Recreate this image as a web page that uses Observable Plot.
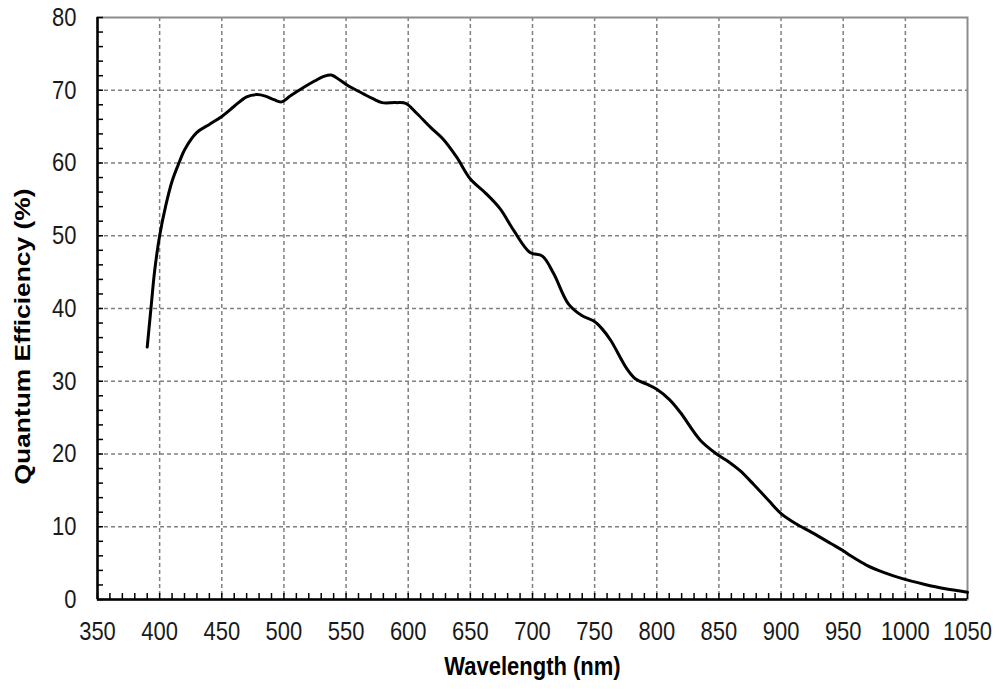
<!DOCTYPE html>
<html>
<head>
<meta charset="utf-8">
<script src="https://cdn.jsdelivr.net/npm/d3@7"></script>
<script src="https://cdn.jsdelivr.net/npm/@observablehq/plot@0.6"></script>
<style>
  html, body { margin: 0; padding: 0; background: #fff; }
  #chart svg { display: block; }
</style>
</head>
<body>
<div id="chart"></div>
<script>
// Wavelength (nm) and quantum efficiency (%)
const wavelength = [390, 393, 396, 400, 405, 410, 416, 420, 430, 440, 450, 460, 470, 478, 485, 492, 498, 505, 516, 525, 532, 538, 545, 551, 564, 572, 579, 590, 598, 607, 618, 628, 639, 650, 662, 674, 685, 698, 708, 717, 729, 740, 749, 756, 763, 776, 783, 792, 800, 810, 819, 835, 849, 858, 867, 878, 890, 900, 912, 925, 940, 950, 956, 969, 983, 999, 1015, 1031, 1050];
const efficiency = [34.7, 40.0, 45.2, 50.0, 54.2, 57.5, 60.2, 61.8, 64.2, 65.3, 66.4, 67.8, 69.1, 69.4, 69.2, 68.7, 68.4, 69.2, 70.4, 71.3, 71.9, 72.1, 71.4, 70.7, 69.5, 68.8, 68.3, 68.3, 68.2, 66.8, 64.9, 63.3, 60.8, 57.8, 55.9, 53.7, 50.7, 47.7, 47.2, 44.8, 40.6, 39.0, 38.3, 37.2, 35.6, 31.7, 30.3, 29.6, 28.9, 27.5, 25.7, 21.9, 19.9, 18.9, 17.7, 15.8, 13.6, 11.8, 10.4, 9.2, 7.7, 6.7, 6.0, 4.7, 3.7, 2.8, 2.1, 1.5, 1.0];

const xTicks = [350, 400, 450, 500, 550, 600, 650, 700, 750, 800, 850, 900, 950, 1000, 1050];
const yTicks = [0, 10, 20, 30, 40, 50, 60, 70, 80];
const xMinor = d3.range(350, 1051, 10);
const yMinor = d3.range(0, 81, 2);

const data = wavelength.map((w, i) => ({w, q: efficiency[i]}));

const gridStyle = {stroke: "#808080", strokeOpacity: 1, strokeWidth: 1.5, strokeDasharray: "4,3"};

const W = 999, H = 690, mL = 97, mR = 32, mT = 17, mB = 91;
const frameW = W - mL - mR, frameH = H - mT - mB, tickLen = 6;

const chart = Plot.plot({
  width: W,
  height: H,
  marginLeft: mL,
  marginRight: mR,
  marginTop: mT,
  marginBottom: mB,
  style: {fontFamily: "'Liberation Sans', Arial, sans-serif", fontSize: "22px", color: "#1a1a1a", background: "#fff"},
  x: {domain: [350, 1050]},
  y: {domain: [0, 80]},
  marks: [
    Plot.gridX(xTicks.slice(1, -1), gridStyle),
    Plot.gridY(yTicks.slice(1, -1), gridStyle),
    Plot.frame({stroke: "#8c8c8c", strokeWidth: 2}),
    Plot.line(data, {x: "w", y: "q", curve: "catmull-rom", stroke: "#000", strokeWidth: 3}),
    Plot.tickX(xMinor, {x: d => d, insetTop: frameH - tickLen, stroke: "#000", strokeWidth: 1.5}),
    Plot.tickY(yMinor, {y: d => d, insetRight: frameW - tickLen, stroke: "#000", strokeWidth: 1.5}),
    Plot.axisX(xTicks, {tickSize: 0, tickPadding: 22, tickFormat: d => String(d), label: null}),
    Plot.axisY(yTicks, {tickSize: 0, tickPadding: 21, tickFormat: d => String(d), label: null}),
    Plot.ruleY([0], {stroke: "#000", strokeWidth: 2.5}),
    Plot.ruleX([350], {stroke: "#000", strokeWidth: 2.5}),
    Plot.text(["Wavelength (nm)"], {frameAnchor: "bottom", dy: 75, fontWeight: "bold", fontSize: 22, fill: "#000", className: "xtitle"}),
    Plot.text(["Quantum Efficiency (%)"], {frameAnchor: "left", textAnchor: "middle", dx: -75, dy: 28, rotate: -90, fontWeight: "bold", fontSize: 22, fill: "#000", className: "ytitle"})
  ]
});

// the reference's text is stretched vertically by about 1.2
const stretch = (sel, s) => sel.each(function () {
  const t = this.getAttribute("transform") || "";
  this.setAttribute("transform", t + " " + s);
});
const svg = d3.select(chart);
stretch(svg.selectAll('g[aria-label="x-axis tick label"] text, g[aria-label="y-axis tick label"] text, .xtitle text'), "scale(1,1.2)");
stretch(svg.selectAll('.ytitle text'), "scale(1.2,1)");

document.getElementById("chart").appendChild(chart);
</script>
</body>
</html>
